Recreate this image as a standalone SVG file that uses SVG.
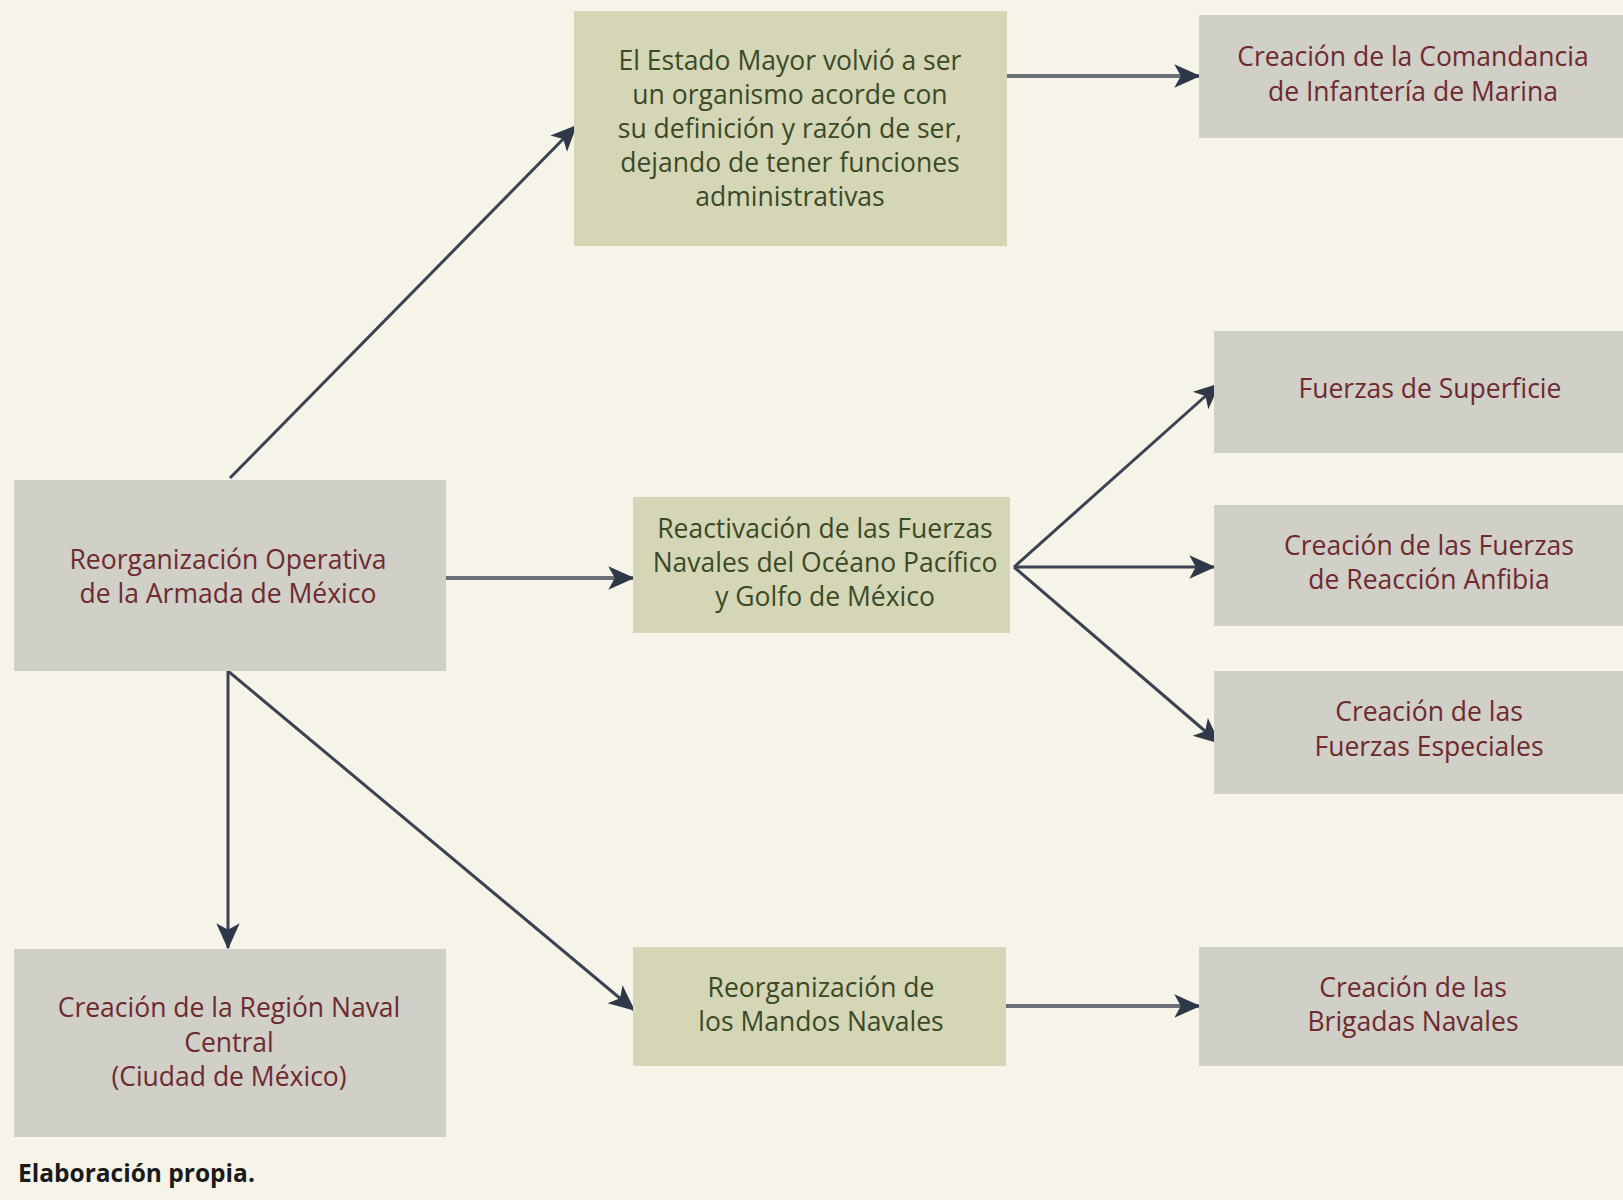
<svg xmlns="http://www.w3.org/2000/svg" width="1623" height="1200" viewBox="0 0 1623 1200">
<defs>
<style>
.gray{fill:#d0cfc8}
.green{fill:#d5d6b5}
.t{font-family:"Open Sans","Noto Sans",sans-serif;font-size:26.5px;text-anchor:middle}
.tm{fill:#6e2a2e}
.tg{fill:#3a4a28}
.c{stroke:#3a4352;stroke-width:3;fill:none}
.ch{stroke:#6b6f78;stroke-width:4;fill:none}
</style>
<marker id="ah" viewBox="0 0 20 20" refX="19" refY="10" markerWidth="26" markerHeight="26" markerUnits="userSpaceOnUse" orient="auto">
<path d="M0,1 L20,10 L0,19 L5,10 Z" fill="#2e3848"/>
</marker>
</defs>
<rect x="0" y="0" width="1623" height="1200" fill="#f6f3e8"/>
<g id="connectors">
<line class="c" x1="230" y1="478" x2="576" y2="126" marker-end="url(#ah)"/>
<line class="ch" x1="445" y1="578" x2="633" y2="578" marker-end="url(#ah)"/>
<line class="ch" x1="1006" y1="76" x2="1199" y2="76" marker-end="url(#ah)"/>
<line class="c" x1="228" y1="671" x2="228" y2="948" marker-end="url(#ah)"/>
<line class="c" x1="228" y1="671" x2="634" y2="1010" marker-end="url(#ah)"/>
<line class="ch" x1="1006" y1="1006" x2="1199" y2="1006" marker-end="url(#ah)"/>
<line class="c" x1="1014" y1="567" x2="1219" y2="384" marker-end="url(#ah)"/>
<line class="c" x1="1014" y1="567" x2="1214" y2="567" marker-end="url(#ah)"/>
<line class="c" x1="1014" y1="567" x2="1219" y2="743" marker-end="url(#ah)"/>
</g>
<g id="n-reorg">
<rect class="gray" x="14" y="480" width="432" height="191"/>
<text class="t tm" x="228" y="569">Reorganización Operativa</text>
<text class="t tm" x="228" y="603">de la Armada de México</text>
</g>
<g id="n-estado">
<rect class="green" x="574" y="11" width="433" height="235"/>
<text class="t tg" x="790" y="70">El Estado Mayor volvió a ser</text>
<text class="t tg" x="790" y="104">un organismo acorde con</text>
<text class="t tg" x="790" y="138">su definición y razón de ser,</text>
<text class="t tg" x="790" y="172">dejando de tener funciones</text>
<text class="t tg" x="790" y="206">administrativas</text>
</g>
<g id="n-comandancia">
<rect class="gray" x="1199" y="15" width="424" height="123"/>
<text class="t tm" x="1413" y="66">Creación de la Comandancia</text>
<text class="t tm" x="1413" y="101">de Infantería de Marina</text>
</g>
<g id="n-superficie">
<rect class="gray" x="1214" y="331" width="409" height="122"/>
<text class="t tm" x="1430" y="398">Fuerzas de Superficie</text>
</g>
<g id="n-reactivacion">
<rect class="green" x="633" y="497" width="377" height="136"/>
<text class="t tg" x="825" y="538">Reactivación de las Fuerzas</text>
<text class="t tg" x="825" y="572">Navales del Océano Pacífico</text>
<text class="t tg" x="825" y="606">y Golfo de México</text>
</g>
<g id="n-anfibia">
<rect class="gray" x="1214" y="505" width="409" height="121"/>
<text class="t tm" x="1429" y="555">Creación de las Fuerzas</text>
<text class="t tm" x="1429" y="589">de Reacción Anfibia</text>
</g>
<g id="n-especiales">
<rect class="gray" x="1214" y="671" width="409" height="123"/>
<text class="t tm" x="1429" y="721">Creación de las</text>
<text class="t tm" x="1429" y="756">Fuerzas Especiales</text>
</g>
<g id="n-region">
<rect class="gray" x="14" y="949" width="432" height="188"/>
<text class="t tm" x="229" y="1017">Creación de la Región Naval</text>
<text class="t tm" x="229" y="1052">Central</text>
<text class="t tm" x="229" y="1086">(Ciudad de México)</text>
</g>
<g id="n-mandos">
<rect class="green" x="633" y="947" width="373" height="119"/>
<text class="t tg" x="821" y="997">Reorganización de</text>
<text class="t tg" x="821" y="1031">los Mandos Navales</text>
</g>
<g id="n-brigadas">
<rect class="gray" x="1199" y="947" width="424" height="119"/>
<text class="t tm" x="1413" y="997">Creación de las</text>
<text class="t tm" x="1413" y="1031">Brigadas Navales</text>
</g>
<text x="18" y="1182" font-family="'Open Sans','Noto Sans',sans-serif" font-size="24.5" font-weight="700" fill="#1a1a1a">Elaboración propia.</text>
</svg>
